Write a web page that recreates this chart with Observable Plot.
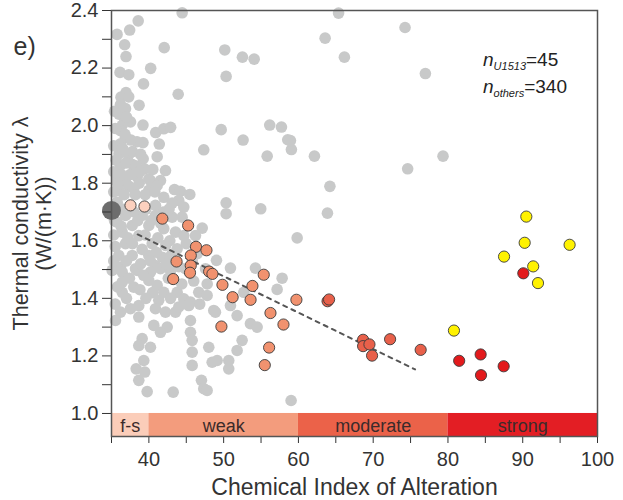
<!DOCTYPE html>
<html><head><meta charset="utf-8">
<script src="https://cdn.jsdelivr.net/npm/d3@7"></script>
<script src="https://cdn.jsdelivr.net/npm/@observablehq/plot@0.6"></script>
<style>
body{margin:0;background:#fff;}
svg{display:block;}
</style>
</head><body><div id="chart"></div>
<script>
// ---------- DATA ----------
// other sites: [CIA, thermal conductivity]
const othersPoints = [
[44.45,2.392],[38.57,2.364],[37.43,2.332],[35.74,2.317],[36.76,2.281],[42.05,2.271],[36.94,2.240],[50.15,2.263],[52.51,2.238],[54.08,2.231],
[40.24,2.199],[36.14,2.185],[37.31,2.177],[50.33,2.171],[39.28,2.145],[43.92,2.109],[36.94,2.115],[36.27,2.099],[37.3,2.100],[36.2,2.073],
[38.69,2.071],[36.87,2.059],[36.74,2.024],[37.54,2.013],[36.43,2.001],[39.21,2.002],[36.2,1.983],[40.91,1.976],[41.99,1.989],[42.91,1.994],
[49.67,1.986],[56.16,2.002],[57.73,1.995],[58.57,1.951],[59.06,1.917],[52.6,1.950],[47.34,1.916],[55.82,1.894],[36.87,1.960],[38.41,1.944],
[39.21,1.941],[41.39,1.936],[36.2,1.937],[36.0,1.902],[37.27,1.897],[39.24,1.885],[41.11,1.892],[36.2,1.862],[37.81,1.865],[39.41,1.850],
[40.52,1.848],[42.22,1.844],[35.76,1.816],[38.44,1.822],[39.99,1.815],[36.87,1.804],[40.21,1.809],[41.55,1.809],[41.11,1.792],[43.42,1.778],
[44.22,1.772],[45.47,1.761],[35.98,1.775],[37.98,1.781],[39.99,1.775],[41.99,1.751],[43.99,1.740],[35.76,1.734],[40.88,1.723],[43.11,1.731],
[44.67,1.717],[50.33,1.732],[50.33,1.694],[54.96,1.711],[36.87,1.688],[39.1,1.688],[40.88,1.688],[43.11,1.682],[44.45,1.682],[47.13,1.644],
[35.76,1.665],[37.77,1.653],[39.99,1.653],[41.99,1.642],[43.56,1.630],[36.43,1.630],[38.65,1.618],[44.67,1.618],[46.23,1.618],[36.87,1.590],
[40.44,1.590],[42.22,1.584],[43.78,1.572],[46.46,1.555],[35.98,1.549],[37.77,1.549],[39.99,1.549],[41.78,1.543],[36.2,1.509],[38.21,1.503],
[40.88,1.514],[42.89,1.497],[44.89,1.503],[47.57,1.503],[35.09,1.497],[36.43,1.491],[38.44,1.497],[40.21,1.491],[41.55,1.503],[36.43,1.456],
[37.98,1.439],[36.43,1.421],[39.99,1.462],[41.11,1.445],[41.99,1.421],[41.32,1.393],[43.78,1.421],[44.67,1.398],[45.56,1.387],[46.67,1.421],
[47.79,1.410],[38.65,1.375],[37.54,1.364],[36.2,1.352],[35.53,1.323],[38.65,1.335],[40.88,1.364],[42.22,1.352],[43.56,1.352],[45.33,1.375],
[40.66,1.306],[42.45,1.300],[41.55,1.282],[45.56,1.323],[45.56,1.282],[45.79,1.254],[39.1,1.260],[38.65,1.236],[40.21,1.230],[48.01,1.230],
[45.79,1.213],[39.32,1.184],[38.3,1.155],[39.45,1.144],[38.65,1.115],[45.79,1.167],[47.03,1.115],[47.34,1.086],[39.77,1.076],[43.25,1.074],
[48.46,1.178],[48.68,1.358],[50.91,1.505],[54.25,1.505],[57.82,1.470],[57.15,1.431],[52.69,1.421],[50.91,1.375],[51.8,1.340],[48.9,1.352],
[53.58,1.312],[54.48,1.300],[52.47,1.254],[51.8,1.219],[49.13,1.184],[50.68,1.184],[50.68,1.155],[47.79,1.080],[59.02,1.045],[58.93,1.948],
[62.14,1.894],[74.61,1.850],[79.34,1.894],[64.21,1.789],[63.88,1.696],[65.37,2.391],[63.57,2.304],[66.15,2.238],[74.26,2.341],[76.98,2.181],
[59.83,1.610],[49.04,1.532],
[35.4,2.05],[36.0,2.04],[37.0,2.03],[35.5,1.99],[36.8,1.97],[37.6,1.95],[35.3,1.93],[36.5,1.92],[37.8,1.91],[38.9,1.90],
[35.6,1.88],[36.9,1.87],[38.3,1.86],[35.3,1.84],[36.3,1.83],[37.5,1.83],[38.8,1.84],[35.8,1.80],[37.3,1.79],[38.7,1.80],
[35.3,1.77],[36.7,1.76],[38.2,1.76],[39.5,1.76],[40.8,1.77],[35.5,1.72],[36.4,1.71],[38.0,1.70],[39.6,1.71],[41.9,1.70],
[42.7,1.71],[35.4,1.67],[36.3,1.65],[38.5,1.67],[40.3,1.67],[41.6,1.66],[35.3,1.62],[37.2,1.61],[39.5,1.62],[41.2,1.61],
[42.8,1.60],[35.5,1.58],[37.8,1.59],[39.1,1.57],[41.0,1.56],[43.0,1.55],[45.0,1.59],[35.3,1.53],[37.0,1.53],[38.9,1.52],
[40.2,1.53],[42.3,1.52],[44.0,1.51],[45.8,1.53],[37.4,1.47],[39.3,1.48],[42.6,1.47],[44.4,1.45],[46.0,1.46],[35.8,1.44],
[38.8,1.43],[40.5,1.42],[42.9,1.40],[44.0,1.37],[46.8,1.38],[47.8,1.45],[35.5,1.38],[37.0,1.40],[39.6,1.40]
];
// U1513 samples grouped by class: [CIA, thermal conductivity]
const u1513FreshSlight = [[37.54,1.723],[39.41,1.719]];
const u1513Weak = [[41.8,1.677],[45.25,1.653],[46.3,1.579],[47.7,1.567],[45.6,1.549],[43.7,1.528],[45.6,1.514],[48.06,1.493],[48.5,1.485],[45.5,1.489],[43.25,1.467],[49.84,1.447],[53.85,1.443],[55.36,1.482],[51.2,1.404],[53.6,1.395],[59.73,1.395],[56.26,1.349],[58.0,1.309],[49.7,1.302],[56.08,1.229],[55.5,1.168]];
const u1513Moderate = [[63.9,1.39],[64.1,1.396],[68.65,1.256],[68.65,1.234],[69.5,1.240],[69.85,1.201],[72.26,1.258],[76.35,1.221]];
const u1513Strong = [[81.5,1.183],[84.37,1.205],[84.42,1.133],[87.45,1.164],[90.08,1.487]];
const u1513Yellow = [[90.48,1.684],[90.26,1.593],[96.27,1.586],[87.5,1.545],[91.4,1.511],[92.04,1.453],[80.8,1.288]];
const freshReference = [[35, 1.705]];
// dashed regression line end points
const trendCIA = [38.5, 75.6];
const trendTC = [1.622, 1.153];
// alteration bands
const bandNames = ["f-s", "weak", "moderate", "strong"];
const bandStart = [35, 40, 60, 80];
const bandEnd = [40, 60, 80, 100];
const bandColors = ["#fbcdb9", "#f39c7d", "#eb6249", "#e31e24"];
const bandBottom = 0.92, bandTop = 1.0;
// ticks
const xTicks = [35,40,45,50,55,60,65,70,75,80,85,90,95,100];
const xTickLabels = [40,50,60,70,80,90,100];
const yTicks = [1.0,1.1,1.2,1.3,1.4,1.5,1.6,1.7,1.8,1.9,2.0,2.1,2.2,2.3,2.4];
const yTickLabels = ["1.0","1.2","1.4","1.6","1.8","2.0","2.2","2.4"];
const nLabels = [{sym:"n", sub:"U1513", val:"=45"}, {sym:"n", sub:"others", val:"=340"}];

// ---------- BUILD ----------
const font = "'Liberation Sans', Arial, Helvetica, sans-serif";
const u1513 = [
  ...u1513FreshSlight.map(d => ({x:d[0], y:d[1], c:"#fcd0be"})),
  ...u1513Weak.map(d => ({x:d[0], y:d[1], c:"#f1926f"})),
  ...u1513Moderate.map(d => ({x:d[0], y:d[1], c:"#e8604a"})),
  ...u1513Strong.map(d => ({x:d[0], y:d[1], c:"#e31a1c"})),
  ...u1513Yellow.map(d => ({x:d[0], y:d[1], c:"#fff200"}))
];
const bands = bandNames.map((n,i) => ({name:n, start:bandStart[i], end:bandEnd[i], color:bandColors[i]}));
const trend = trendCIA.map((x,i) => ({x, y:trendTC[i]}));

const plot = Plot.plot({
  width: 623, height: 500,
  marginLeft: 111, marginRight: 26, marginTop: 10, marginBottom: 64,
  style: {fontFamily: font, fontSize: "18px", color: "#333", background: "#fff", overflow: "visible"},
  x: {domain: [35, 100]},
  y: {domain: [bandBottom, 2.4]},
  color: {type: "identity"},
  marks: [
    Plot.rect(bands, {x1:"start", x2:"end", y1: bandBottom, y2: bandTop, fill:"color"}),
    Plot.text(bands, {x: d => (d.start + d.end)/2, y: (bandBottom + bandTop)/2, text:"name", fontSize:18, fill:"#3b2b2b", dy: 1}),
    Plot.dot(othersPoints, {x: d => d[0], y: d => d[1], r: 5.8, fill: "#c8c9c9"}),
    Plot.line(trend, {x:"x", y:"y", stroke:"#555", strokeWidth:2, strokeDasharray:"4,5"}),
    Plot.dot(freshReference, {x: d => d[0], y: d => d[1], r: 9.5, fill: "#6d6d6d"}),
    Plot.dot(u1513, {x:"x", y:"y", r:5.6, fill:"c", stroke:"#3a3a3a", strokeWidth:0.9}),
    Plot.axisX(xTicks, {tickSize:7, tickPadding:8, fontSize:20, label:null, tickFormat: d => xTickLabels.includes(d) ? String(d) : ""}),
    Plot.axisY(yTicks, {tickSize:9, tickPadding:4, fontSize:20, label:null, tickFormat: d => yTickLabels.includes(d.toFixed(1)) ? d.toFixed(1) : ""}),
    Plot.frame({stroke:"#555", strokeWidth:1.5}),
    Plot.text(["Chemical Index of Alteration"], {frameAnchor:"bottom", lineAnchor:"middle", dy:51, fontSize:23, fill:"#333"}),
    Plot.text(["Thermal conductivity λ\n(W/(m·K))"], {frameAnchor:"left", textAnchor:"middle", rotate:-90, dx:-79, fontSize:21.5, lineHeight:1.05, fill:"#333"}),
    Plot.text(["e)"], {frameAnchor:"top-left", textAnchor:"start", lineAnchor:"middle", dx:-98, dy:36, fontSize:25, fill:"#333"})
  ]
});
document.getElementById("chart").appendChild(plot);

// n annotations with italic symbol and subscript
const svg = d3.select(plot);
const ann = svg.append("g").attr("font-family", font).attr("fill", "#222").attr("text-anchor", "start");
nLabels.forEach((d, i) => {
  const t = ann.append("text").attr("x", 483).attr("y", 66 + i*27).attr("font-size", 19);
  t.append("tspan").attr("font-style", "italic").text(d.sym);
  t.append("tspan").attr("font-style", "italic").attr("font-size", 11).attr("dy", 4).text(d.sub);
  t.append("tspan").attr("dy", -4).text(d.val);
});
</script>
</body></html>
